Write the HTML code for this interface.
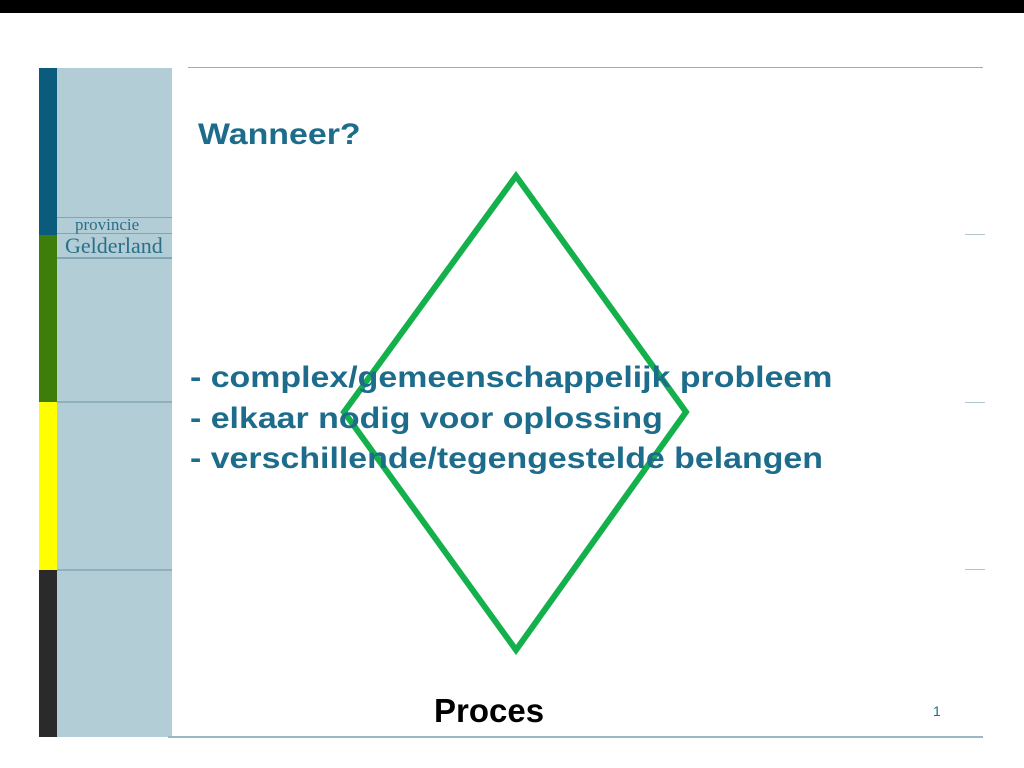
<!DOCTYPE html>
<html><head><style>
body{margin:0;width:1024px;height:768px;background:#fff;position:relative;overflow:hidden;font-family:"Liberation Sans",sans-serif}
div{position:absolute}
.t{color:#1d6c8c;font-weight:bold;white-space:nowrap;transform-origin:0 0;transform:scaleX(1.13)}
</style></head><body>
<div style="left:0;top:0;width:1024px;height:13px;background:#000"></div>
<div style="left:57px;top:68px;width:115px;height:669px;background:#b2cdd6"></div>
<div style="left:39px;top:68px;width:18px;height:167px;background:#0a5b7c"></div>
<div style="left:39px;top:235px;width:18px;height:167px;background:#3d7d0a"></div>
<div style="left:39px;top:402px;width:18px;height:168px;background:#ffff00"></div>
<div style="left:39px;top:570px;width:18px;height:167px;background:#2a2a2a"></div>
<div style="left:57px;top:217px;width:115px;height:1px;background:#7ea6b5"></div>
<div style="left:57px;top:233px;width:115px;height:1px;background:#7ea6b5"></div>
<div style="left:57px;top:257px;width:115px;height:2px;background:#7ea6b5"></div>
<div style="left:57px;top:401px;width:115px;height:2px;background:#8fb0bd"></div>
<div style="left:57px;top:569px;width:115px;height:2px;background:#8fb0bd"></div>
<div style="left:75px;top:215px;font:17px 'Liberation Serif',serif;color:#2a6f8a">provincie</div>
<div style="left:65px;top:233px;font:22px 'Liberation Serif',serif;color:#2a6f8a">Gelderland</div>
<div style="left:188px;top:67px;width:795px;height:1px;background:#8fb0bd"></div>
<div style="left:168px;top:736px;width:815px;height:2px;background:#9ab7c2"></div>
<div style="left:965px;top:234px;width:20px;height:1px;background:#b0c6ce"></div>
<div style="left:965px;top:402px;width:20px;height:1px;background:#b0c6ce"></div>
<div style="left:965px;top:569px;width:20px;height:1px;background:#b0c6ce"></div>
<div class="t" style="left:198px;top:118px;font-size:30px">Wanneer?</div>
<svg style="position:absolute;left:0;top:0" width="1024" height="768"><polygon points="516,176 686,412 516,650 344,412" fill="none" stroke="#13b04b" stroke-width="6" stroke-linejoin="miter"/></svg>
<div class="t" style="left:190px;top:358px;font-size:30px;line-height:40.5px">- complex/gemeenschappelijk probleem<br>- elkaar nodig voor oplossing<br>- verschillende/tegengestelde belangen</div>
<div style="left:434px;top:692px;font-weight:bold;font-size:33px;color:#000">Proces</div>
<div style="left:933px;top:703px;font-size:14px;color:#1d6c8c">1</div>
</body></html>
